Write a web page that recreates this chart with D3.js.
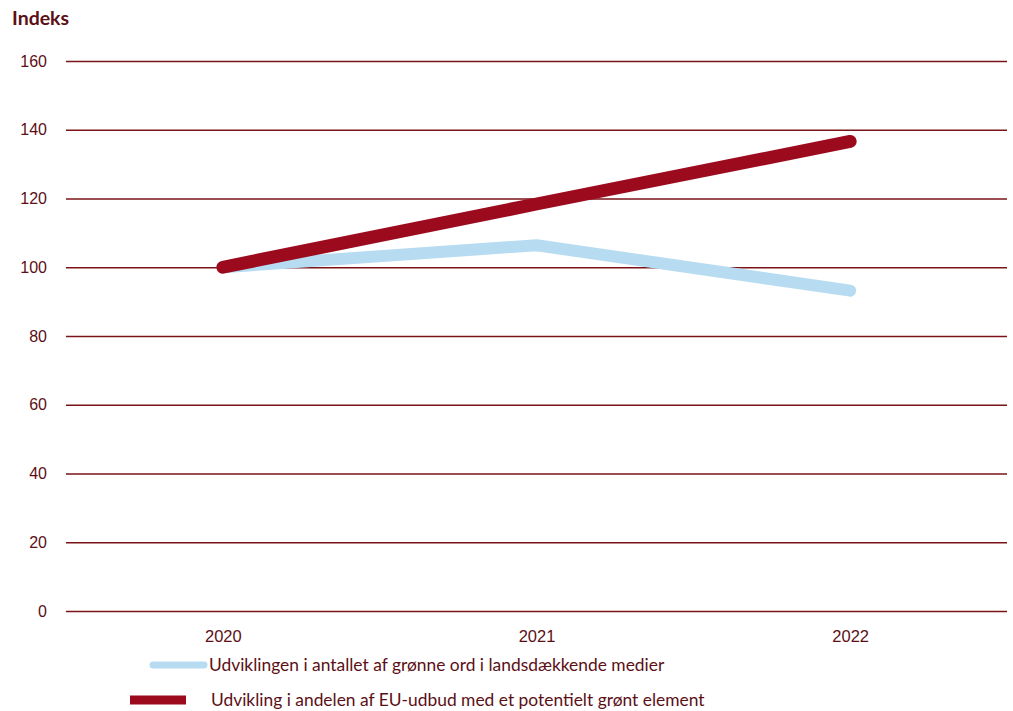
<!DOCTYPE html>
<html>
<head>
<meta charset="utf-8">
<script src="https://cdn.jsdelivr.net/npm/d3@7"></script>
<style>
  html, body { margin: 0; padding: 0; background: #fff; }
  svg { display: block; font-family: Lato, "Open Sans", sans-serif; }
</style>
</head>
<body>
<svg id="chart" width="1013" height="711"></svg>
<script>
// Index values, 2020 = 100
const years = ["2020", "2021", "2022"];
const greenWords = [100, 106.4, 93.2];
const euTenders = [100, 118.4, 136.6];
const yTicks = [0, 20, 40, 60, 80, 100, 120, 140, 160];
const seriesNames = [
  "Udviklingen i antallet af grønne ord i landsdækkende medier",
  "Udvikling i andelen af EU-udbud med et potentielt grønt element"
];

(function () {
  const textColor = "#5c1016";
  const gridColor = "#7b1418";
  const blue = "#b7dcf2";
  const red = "#9c0a1e";

  const svg = d3.select("#chart");
  const plot = { left: 66, right: 1007, top: 61, bottom: 611 };

  const x = d3.scalePoint().domain(years).range([plot.left, plot.right]).padding(0.5);
  const y = d3.scaleLinear().domain([0, 160]).range([plot.bottom, plot.top]);

  // horizontal grid + y tick labels
  const yAxis = d3.axisLeft(y).tickValues(yTicks).tickSize(-(plot.right - plot.left)).tickPadding(19);
  const gy = svg.append("g").attr("transform", `translate(${plot.left},0)`).call(yAxis);
  gy.select(".domain").remove();
  gy.selectAll(".tick line").attr("stroke", gridColor).attr("stroke-width", 1.6);
  gy.selectAll(".tick text").attr("fill", textColor).attr("font-size", 16);

  // x tick labels
  const xAxis = d3.axisBottom(x).tickSize(0).tickPadding(19);
  const gx = svg.append("g").attr("transform", `translate(0,${plot.bottom})`).call(xAxis);
  gx.select(".domain").remove();
  gx.selectAll(".tick text").attr("fill", textColor).attr("font-size", 16.5);

  // y axis title
  svg.append("text").attr("x", 12).attr("y", 25)
    .attr("fill", textColor).attr("font-size", 19.5).attr("font-weight", "bold")
    .text("Indeks");

  const line = d3.line().x((d, i) => x(years[i])).y(d => y(d));

  svg.append("path").datum(greenWords).attr("d", line)
    .attr("fill", "none").attr("stroke", blue).attr("stroke-width", 12)
    .attr("stroke-linecap", "round").attr("stroke-linejoin", "round");

  svg.append("path").datum(euTenders).attr("d", line)
    .attr("fill", "none").attr("stroke", red).attr("stroke-width", 13)
    .attr("stroke-linecap", "round").attr("stroke-linejoin", "round");

  // legend
  const legend = [
    { name: seriesNames[0], color: blue, x1: 153, x2: 204, yy: 665, w: 7, cap: "round", tx: 209 },
    { name: seriesNames[1], color: red, x1: 130, x2: 186, yy: 700, w: 9, cap: "butt", tx: 211 }
  ];
  const lg = svg.append("g");
  legend.forEach(d => {
    lg.append("line").attr("x1", d.x1).attr("x2", d.x2).attr("y1", d.yy).attr("y2", d.yy)
      .attr("stroke", d.color).attr("stroke-width", d.w).attr("stroke-linecap", d.cap);
    lg.append("text").attr("x", d.tx).attr("y", d.yy).attr("dy", "0.35em")
      .attr("fill", textColor).attr("font-size", 17.4).text(d.name);
  });
})();
</script>
</body>
</html>
